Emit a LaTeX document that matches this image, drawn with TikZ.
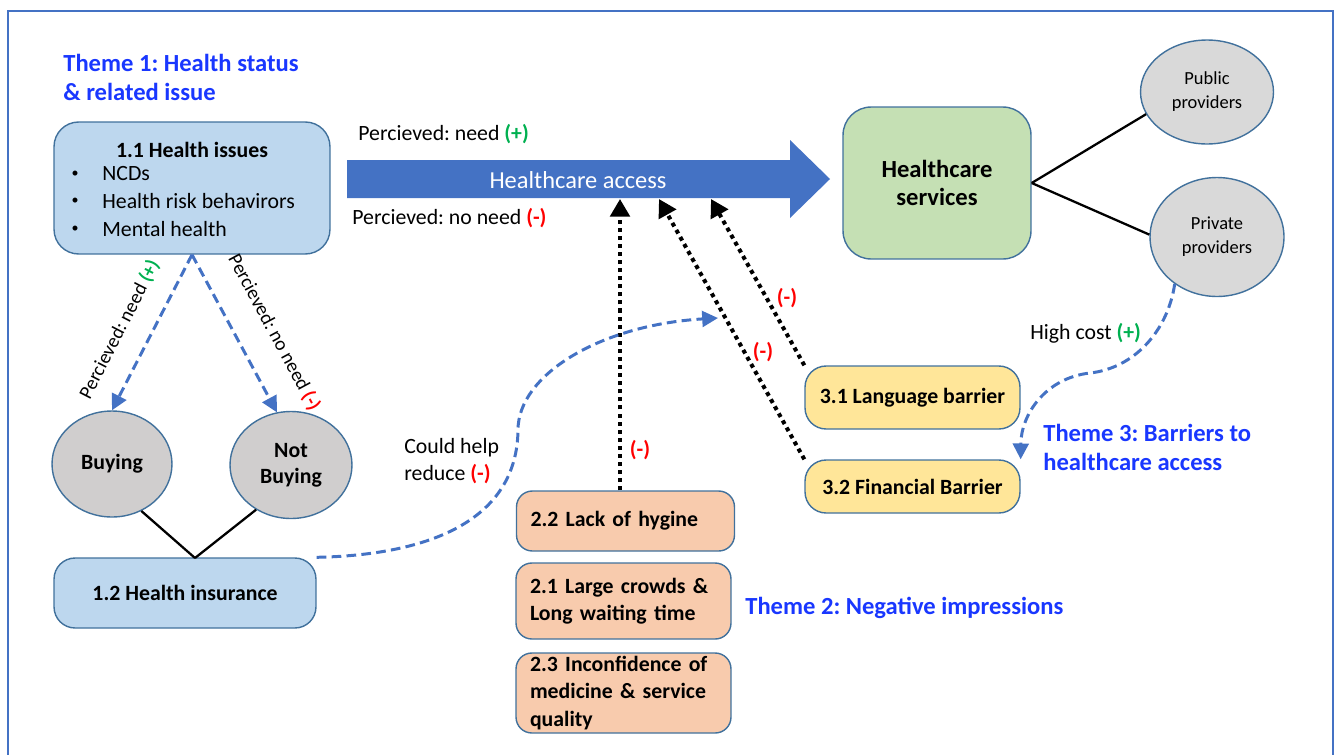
\documentclass[tikz,border=0pt]{standalone}
\usepackage{fontspec}
\setmainfont{Carlito}
\usetikzlibrary{shapes.geometric,arrows.meta}
\definecolor{frameblue}{HTML}{4472C4}
\definecolor{edgeblue}{HTML}{41719C}
\definecolor{themeblue}{RGB}{25,55,255}
\definecolor{boxblue}{HTML}{BDD7EE}
\definecolor{boxgreen}{HTML}{C5E0B4}
\definecolor{boxyellow}{HTML}{FFE699}
\definecolor{boxpeach}{HTML}{F8CBAD}
\definecolor{ovallight}{HTML}{D9D9D9}
\definecolor{ovaldark}{HTML}{D0CECE}
\definecolor{plusgreen}{HTML}{00B050}
\newcommand{\pos}{\textcolor{plusgreen}{\bfseries(+)}}
\newcommand{\negt}{\textcolor{red}{\bfseries(-)}}
\frenchspacing
\begin{document}
\begin{tikzpicture}[x=0.02cm,y=-0.02cm,
  every node/.style={font=\fontsize{12.4}{15.6}\selectfont},
  txt/.style={anchor=west,inner sep=0pt,align=left},
  theme/.style={txt,text=themeblue,font=\fontsize{14}{16.5}\selectfont\bfseries},
  card/.style={draw=edgeblue,line width=0.8pt,rounded corners=#1,font=\fontsize{12.4}{15.6}\selectfont\bfseries},
  card/.default=12pt,
  listbox/.style={card=9pt,fill=boxpeach,minimum width=4.35cm,text width=3.8cm,inner xsep=0.28cm,align=left},
  oval/.style={ellipse,draw=edgeblue,line width=0.8pt,inner sep=0pt,align=center},
  flow/.style={draw=frameblue,line width=1.7pt,dash pattern=on 5.5pt off 3pt,-{Triangle[length=9pt,width=9pt]}},
  barrier/.style={black,line width=2.3pt,dash pattern=on 2.3pt off 2.3pt,-{Triangle[length=10pt,width=11pt]}},
  link/.style={black,line width=1.3pt},
  slopelbl/.style={sloped,font=\fontsize{11.1}{13}\selectfont},
  minus/.style={text=red,font=\fontsize{12.4}{15.6}\selectfont\bfseries}]
\useasboundingbox (0,0) rectangle (1335,754);
\draw[frameblue,line width=1.1pt] (8,11) rectangle (1333,780);

% theme 1
\node[theme] (t1) at (63,77) {Theme 1: Health status\\\& related issue};
\node[card=14pt,fill=boxblue,minimum width=5.52cm,minimum height=2.64cm] (iss) at (192,188) {};
\node[font=\fontsize{12.4}{15.6}\selectfont\bfseries] (isstitle) at (192,150) {1.1 Health issues};
\foreach \y/\t in {174/NCDs,201/Health risk behavirors,229/Mental health}
{
    \node[font=\fontsize{8}{9}\selectfont] (dot\y) at (75,\y) {\textbullet};
    \node[txt] (item\y) at (102,\y) {\t};
}
\node[oval,fill=ovaldark,minimum width=2.4cm,minimum height=2.12cm,font=\fontsize{12.4}{15.6}\selectfont\bfseries] (buy) at (112,464) {Buying};
\node[oval,fill=ovaldark,minimum width=2.44cm,minimum height=2.14cm,font=\fontsize{12.4}{14.7}\selectfont\bfseries] (nbuy) at (291,465) {Not\\Buying};
\node[card,fill=boxblue,minimum width=5.24cm,minimum height=1.4cm] (ins) at (185,593) {1.2 Health insurance};
\coordinate (insjoin) at (195,558);

\draw[flow] (iss.south) -- node[slopelbl,above=8pt,pos=0.57]{Percieved: need \pos} (buy.north);
\draw[flow] (iss.south) -- node[slopelbl,above=11pt,pos=0.6]{Percieved: no need \negt} (nbuy.105);
\draw[link] (buy.-58) -- (insjoin);
\draw[link] (nbuy.-128) -- (insjoin);

% access arrow
\fill[frameblue] (347,160)--(790,160)--(790,140)--(830,179)--(790,218)--(790,198)--(347,198)--cycle;
\node[text=white,font=\fontsize{13.9}{16}\selectfont] (access) at (578,180) {Healthcare access};
\node[txt] (needlbl) at (358,134) {Percieved: need \pos};
\node[txt] (noneedlbl) at (352,218) {Percieved: no need \negt};
\coordinate (acc1) at (620,199);
\coordinate (acc2) at (659,199);
\coordinate (acc3) at (711,199);

% services
\node[card=16pt,fill=boxgreen,minimum width=3.76cm,minimum height=3.04cm,align=center,font=\fontsize{14}{16}\selectfont\bfseries] (hs) at (937,183) {Healthcare\\services};
\node[oval,fill=ovallight,minimum width=2.66cm,minimum height=2.08cm,font=\fontsize{10.5}{13.6}\selectfont] (pub) at (1207,92) {Public\\providers};
\node[oval,fill=ovallight,minimum width=2.68cm,minimum height=2.38cm,font=\fontsize{10.5}{13.6}\selectfont] (priv) at (1217,237) {Private\\providers};
\draw[link] (hs.east) -- (pub.200);
\draw[link] (hs.east) -- (priv.178);

% theme 3
\node[card,fill=boxyellow,minimum width=4.3cm,minimum height=1.26cm] (lang) at (912.5,397.5) {3.1 Language barrier};
\node[card,fill=boxyellow,minimum width=4.3cm,minimum height=1.06cm] (fin) at (912.5,486.5) {3.2 Financial Barrier};
\node[theme] (t3) at (1043,447) {Theme 3: Barriers to\\healthcare access};
\node[txt] (costlbl) at (1030,333) {High cost \pos};
\draw[flow] (priv.-132) .. controls (1168,330) and (1135,368) .. (1090,373) .. controls (1045,378) and (1021,415) .. (fin.north east);
\draw[barrier] (lang.north west) -- (acc3);
\draw[barrier] (fin.north west) -- (acc2);
\node[minus] (m3) at (787,298) {(-)};
\node[minus] (m2) at (763,352) {(-)};

% theme 2
\node[listbox,minimum height=1.2cm] (hyg) at (625.5,521) {2.2 Lack of hygine};
\node[listbox,minimum width=4.3cm,text width=3.74cm,minimum height=1.52cm] (crowd) at (623.5,601) {2.1 Large crowds \&\\Long waiting time};
\node[listbox,minimum width=4.3cm,text width=3.74cm,minimum height=1.6cm,inner ysep=0pt] (conf) at (623.5,693) {2.3 Inconfidence of\\medicine \& service\\quality};
\node[theme] (t2) at (745,608) {Theme 2: Negative impressions};
\draw[barrier] (acc1 |- hyg.north) -- (acc1);
\node[minus] (m1) at (640,450) {(-)};

% insurance effect
\node[txt] (helplbl) at (404,461) {Could help\\reduce \negt};
\coordinate (reduceend) at (718,318);
\draw[flow] (ins.north east) .. controls (430,555) and (517,520) .. (518,430) .. controls (518,375) and (600,325) .. (reduceend);
\end{tikzpicture}
\end{document}
